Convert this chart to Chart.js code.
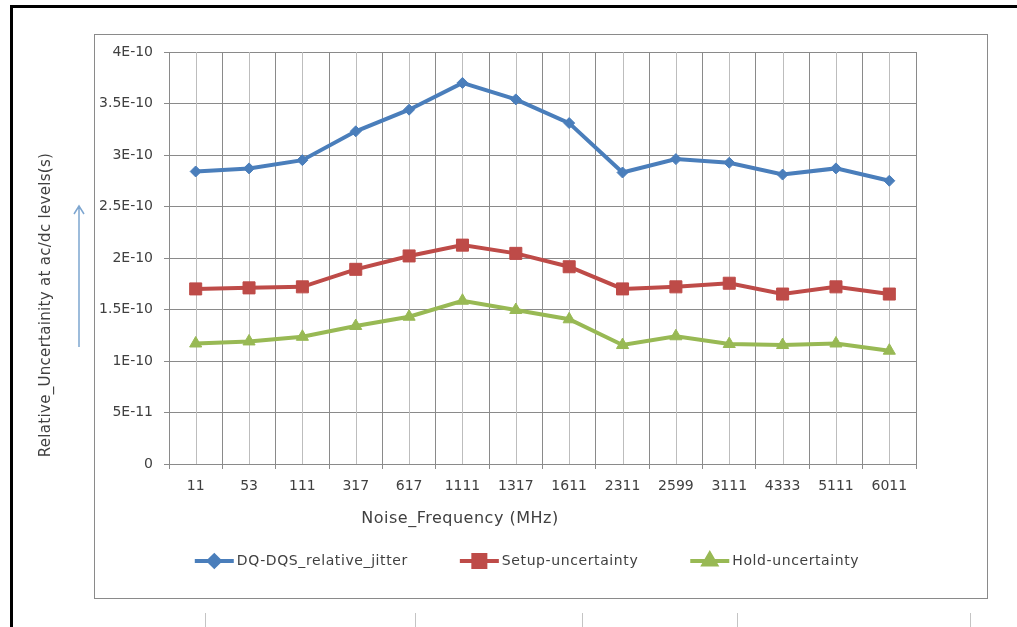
<!DOCTYPE html>
<html>
<head>
<meta charset="utf-8">
<title>Relative uncertainty vs noise frequency</title>
<script src="https://cdn.jsdelivr.net/npm/chart.js@4.4.1/dist/chart.umd.min.js"></script>
<style>
  html, body { margin: 0; padding: 0; background: #fff; }
  body { width: 1017px; height: 627px; position: relative; overflow: hidden; }
  .frame { position: absolute; left: 10px; top: 5px; width: 1100px; height: 700px; border-top: 3px solid #000; border-left: 3px solid #000; }
  .box { position: absolute; left: 94px; top: 34px; width: 892px; height: 563px; border: 1px solid #8a8a8a; }
  .cut { position: absolute; top: 613px; width: 1px; height: 14px; background: #c4c4c4; }
  #chart { position: absolute; left: 0; top: 0; }
</style>
</head>
<body>
<div class="frame"></div>
<div class="box"></div>
<div class="cut" style="left:205px"></div>
<div class="cut" style="left:415px"></div>
<div class="cut" style="left:582px"></div>
<div class="cut" style="left:737px"></div>
<div class="cut" style="left:970px"></div>
<canvas id="chart" width="1017" height="627"></canvas>
<script>
// noise frequencies (MHz)
const frequencies = ['11', '53', '111', '317', '617', '1111', '1317', '1611', '2311', '2599', '3111', '4333', '5111', '6011'];

// uncertainty values in seconds
const dqJitter = [2.84e-10, 2.87e-10, 2.95e-10, 3.23e-10, 3.44e-10, 3.70e-10, 3.54e-10, 3.31e-10, 2.83e-10, 2.96e-10, 2.925e-10, 2.81e-10, 2.87e-10, 2.75e-10];
const setupUnc = [1.70e-10, 1.71e-10, 1.72e-10, 1.89e-10, 2.02e-10, 2.125e-10, 2.045e-10, 1.915e-10, 1.70e-10, 1.72e-10, 1.755e-10, 1.65e-10, 1.72e-10, 1.65e-10];
const holdUnc = [1.17e-10, 1.19e-10, 1.235e-10, 1.34e-10, 1.43e-10, 1.585e-10, 1.495e-10, 1.405e-10, 1.155e-10, 1.24e-10, 1.165e-10, 1.155e-10, 1.17e-10, 1.10e-10];

const yTickValues = [0, 0.5e-10, 1e-10, 1.5e-10, 2e-10, 2.5e-10, 3e-10, 3.5e-10, 4e-10];
const yTickLabels = ['0', '5E-11', '1E-10', '1.5E-10', '2E-10', '2.5E-10', '3E-10', '3.5E-10', '4E-10'];

const FONT = '"DejaVu Sans", sans-serif';
const TEXT = '#404040';

// light grid line through the middle of every category
const categoryLines = {
  id: 'categoryLines',
  beforeDatasetsDraw(chart) {
    const { ctx, chartArea, scales: { x } } = chart;
    ctx.save();
    ctx.strokeStyle = '#bdbdbd';
    ctx.lineWidth = 1;
    frequencies.forEach((f, i) => {
      const px = Math.round(x.getPixelForValue(i)) + 0.5;
      ctx.beginPath();
      ctx.moveTo(px, chartArea.top);
      ctx.lineTo(px, chartArea.bottom);
      ctx.stroke();
    });
    ctx.restore();
  }
};

// axis titles, the arrow next to the y title and the line+marker legend
const decorations = {
  id: 'decorations',
  afterDraw(chart) {
    const { ctx } = chart;
    ctx.save();
    ctx.fillStyle = TEXT;
    ctx.textBaseline = 'middle';

    ctx.font = '16px ' + FONT;
    ctx.letterSpacing = '0.5px';
    ctx.textAlign = 'center';
    ctx.fillText('Noise_Frequency (MHz)', 460, 519);

    ctx.save();
    ctx.font = '15px ' + FONT;
    ctx.letterSpacing = '0.3px';
    ctx.translate(46, 305);
    ctx.rotate(-Math.PI / 2);
    ctx.fillText('Relative_Uncertainity at ac/dc levels(s)', 0, 0);
    ctx.restore();

    ctx.strokeStyle = '#7ea6d0';
    ctx.lineWidth = 1.5;
    ctx.beginPath();
    ctx.moveTo(79, 347);
    ctx.lineTo(79, 206);
    ctx.moveTo(74, 214);
    ctx.lineTo(79, 206);
    ctx.lineTo(84, 214);
    ctx.stroke();

    // legend
    ctx.font = '14px ' + FONT;
    ctx.letterSpacing = '0.6px';
    ctx.textAlign = 'left';
    const lineLen = 39, textGap = 3, itemGap = 52, ly = 561;
    const items = chart.data.datasets.map(ds => ({ ds, w: lineLen + textGap + ctx.measureText(ds.label).width }));
    const total = items.reduce((s, it) => s + it.w, 0) + itemGap * (items.length - 1);
    let lx = 527 - total / 2;
    items.forEach(({ ds, w }) => {
      ctx.strokeStyle = ds.borderColor;
      ctx.lineWidth = 4;
      ctx.beginPath();
      ctx.moveTo(lx, ly);
      ctx.lineTo(lx + lineLen, ly);
      ctx.stroke();
      ctx.fillStyle = ds.pointBackgroundColor;
      ctx.strokeStyle = ds.borderColor;
      Chart.helpers.drawPoint(ctx, { pointStyle: ds.pointStyle, radius: ds.pointRadius, rotation: 0, borderWidth: 1 }, lx + lineLen / 2, ly);
      ctx.fillStyle = TEXT;
      ctx.fillText(ds.label, lx + lineLen + textGap, ly);
      lx += w + itemGap;
    });
    ctx.restore();
  }
};

function series(label, data, color, pointStyle, pointRadius) {
  return {
    label, data, pointStyle, pointRadius,
    borderColor: color,
    backgroundColor: color,
    pointBackgroundColor: color,
    pointBorderColor: color,
    pointBorderWidth: 1,
    borderWidth: 4,
    tension: 0
  };
}

new Chart(document.getElementById('chart'), {
  type: 'line',
  data: {
    labels: frequencies,
    datasets: [
      series('DQ-DQS_relative_jitter', dqJitter, '#4a7ebb', 'rectRot', 5.5),
      series('Setup-uncertainty', setupUnc, '#be4b48', 'rect', 8.5),
      series('Hold-uncertainty', holdUnc, '#98b954', 'triangle', 7)
    ]
  },
  options: {
    responsive: false,
    devicePixelRatio: 1,
    animation: false,
    layout: { padding: { left: 0, top: 52, right: 101, bottom: 133 } },
    plugins: { legend: { display: false }, tooltip: { enabled: false } },
    scales: {
      x: {
        offset: true,
        afterFit(scale) { scale.height = 30; },
        grid: { offset: true, color: '#8a8a8a', tickLength: 5, tickColor: '#8a8a8a' },
        border: { color: '#8a8a8a' },
        ticks: { color: TEXT, font: { family: FONT, size: 14 }, padding: 9, maxRotation: 0, autoSkip: false }
      },
      y: {
        min: 0,
        max: 4e-10,
        afterFit(scale) { scale.width = 169; },
        afterBuildTicks(scale) { scale.ticks = yTickValues.map(v => ({ value: v })); },
        grid: { color: '#8a8a8a', tickLength: 5, tickColor: '#8a8a8a' },
        border: { color: '#8a8a8a' },
        ticks: {
          color: TEXT,
          font: { family: FONT, size: 14 },
          padding: 11,
          callback: (v, i) => yTickLabels[i]
        }
      }
    }
  },
  plugins: [categoryLines, decorations]
});
</script>
</body>
</html>
